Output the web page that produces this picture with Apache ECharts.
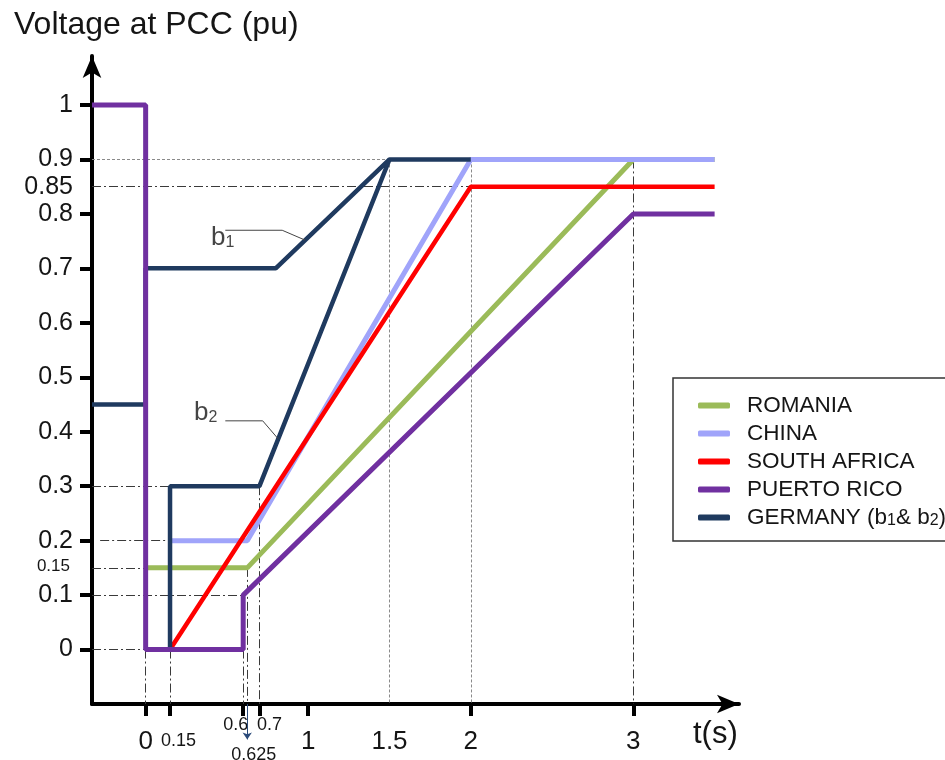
<!DOCTYPE html>
<html>
<head>
<meta charset="utf-8">
<script src="https://cdn.jsdelivr.net/npm/echarts@6/dist/echarts.min.js"></script>
<style>
html, body { margin: 0; padding: 0; background: #fff; }
#chart { width: 945px; height: 760px; }
</style>
</head>
<body>
<div id="chart"></div>
<script>
// t (s) and voltage (pu) for each grid code curve
var tRomania = [0, 0.625, 3, 3.5];
var vRomania = [0.15, 0.15, 0.9, 0.9];
var tChina = [0.15, 0.625, 2, 3.5];
var vChina = [0.2, 0.2, 0.9, 0.9];
var tSouthAfrica = [0.15, 2, 3.5];
var vSouthAfrica = [0, 0.85, 0.85];
var tPuertoRico = [-0.33, 0, 0, 0.6, 0.6, 3, 3.5];
var vPuertoRico = [1, 1, 0, 0, 0.1, 0.8, 0.8];
var tGermanyB1 = [-0.33, 0, 0, 0.8, 1.5, 2];
var vGermanyB1 = [0.45, 0.45, 0.7, 0.7, 0.9, 0.9];
var tGermanyB2 = [0.15, 0.15, 0.7, 1.5];
var vGermanyB2 = [0, 0.3, 0.3, 0.9];

var countries = ['ROMANIA', 'CHINA', 'SOUTH AFRICA', 'PUERTO RICO', 'GERMANY (b1& b2)'];

// axis ticks / labels
var xTicks = [0, 0.15, 0.6, 0.7, 1, 2, 3];
var xLabels = [0, 0.6, 0.7, 1, 1.5, 2, 3];
var xLabelsLow = [0.15, 0.625];   // the two lower, smaller labels
var yTicks = [0, 0.1, 0.2, 0.3, 0.4, 0.5, 0.6, 0.7, 0.8, 0.9, 1];
var yLabels = [0, 0.1, 0.15, 0.2, 0.3, 0.4, 0.5, 0.6, 0.7, 0.8, 0.85, 0.9, 1];

// helper lines [[t, v], [t, v]]
var dashDotGuides = [
    [[-0.33, 0.85], [2, 0.85]],
    [[-0.33, 0.3], [0.15, 0.3]],
    [[-0.28, 0.2], [0.15, 0.2]],
    [[-0.33, 0.15], [0, 0.15]],
    [[-0.33, 0.1], [0.6, 0.1]],
    [[-0.33, 0], [0, 0]],
    [[0, 0], [0, -0.1]],
    [[0.15, 0], [0.15, -0.1]],
    [[0.6, 0], [0.6, -0.1]],
    [[0.625, 0.15], [0.625, -0.1]],
    [[0.7, 0.3], [0.7, -0.1]],
    [[3, 0.9], [3, -0.1]]
];
var dottedGuides = [
    [[-0.33, 0.9], [3, 0.9]],
    [[1.5, 0.9], [1.5, -0.1]],
    [[2, 0.9], [2, -0.1]]
];

// b1 / b2 callouts
var b1Pos = [0.474, 0.756];
var b2Pos = [0.37, 0.435];
var b1Leader = [[0.49, 0.77], [0.84, 0.77], [0.98, 0.752]];
var b2Leader = [[0.49, 0.42], [0.72, 0.42], [0.815, 0.387]];
var tick625Arrow = [[0.625, -0.1], [0.625, -0.165]];

function zip(ts, vs) {
    var out = [];
    for (var i = 0; i < ts.length; i++) {
        out.push([ts[i], vs[i]]);
    }
    return out;
}

var FONT = 'Liberation Sans, Arial, sans-serif';
var TXT = '#151515';

var X_MIN = -0.33, X_MAX = 3.65, Y_MIN = -0.1, Y_MAX = 1.09;
var gridBox = { left: 92, right: 206, top: 56, bottom: 56, containLabel: false, outerBoundsMode: 'none' };

function curve(name, ts, vs, color, width) {
    return {
        name: name,
        type: 'line',
        data: zip(ts, vs),
        symbol: 'none',
        color: color,
        lineStyle: { color: color, width: width },
        z: 3,
        animation: false
    };
}

var xStyle = { 0: 'big', 0.15: 's15', 0.6: 'l6', 0.625: 's625', 0.7: 'r7', 1: 'big', 1.5: 'big', 2: 'big', 3: 'big' };
var xRich = {
    big: { fontFamily: FONT, fontSize: 26, lineHeight: 28, color: TXT, padding: [32, 0, 0, 0] },
    s15: { fontFamily: FONT, fontSize: 18, lineHeight: 20, color: TXT, padding: [38, 0, 0, 17] },
    l6: { fontFamily: FONT, fontSize: 18, lineHeight: 20, color: TXT, padding: [7, 15, 0, 0] },
    r7: { fontFamily: FONT, fontSize: 18, lineHeight: 20, color: TXT, padding: [7, 0, 0, 20] },
    s625: { fontFamily: FONT, fontSize: 18, lineHeight: 20, color: TXT, padding: [66, 0, 0, 13] }
};
function xFormatter(v) {
    return '{' + (xStyle[v] || 'big') + '|' + v + '}';
}

var chart = echarts.init(document.getElementById('chart'));

option = {
    animation: false,
    title: [
        {
            text: 'Voltage at PCC (pu)',
            left: 9,
            top: 4,
            textStyle: { fontFamily: FONT, fontSize: 32, fontWeight: 'normal', color: TXT }
        },
        {
            text: 't(s)',
            left: 688,
            top: 714,
            textStyle: { fontFamily: FONT, fontSize: 31, fontWeight: 'normal', color: TXT }
        }
    ],
    legend: {
        orient: 'vertical',
        left: 673,
        top: 378,
        padding: [16, 60, 12, 25],
        itemGap: 5,
        itemWidth: 32,
        itemHeight: 6,
        icon: 'roundRect',
        borderColor: '#333',
        borderWidth: 1.5,
        backgroundColor: '#fff',
        data: countries,
        formatter: function (name) {
            if (name === 'GERMANY (b1& b2)') {
                return 'GERMANY (b{sub|1}& b{sub|2})';
            }
            return name;
        },
        textStyle: {
            fontFamily: FONT,
            fontSize: 22.5,
            lineHeight: 22,
            color: TXT,
            padding: [0, 0, 0, 12],
            rich: {
                sub: { fontFamily: FONT, fontSize: 16, color: TXT, verticalAlign: 'bottom' }
            }
        }
    },
    grid: [gridBox, gridBox],
    xAxis: [
        {
            type: 'value',
            gridIndex: 0,
            min: X_MIN,
            max: X_MAX,
            splitLine: { show: false },
            axisLine: {
                onZero: false,
                lineStyle: { color: '#000', width: 4 },
                symbol: ['none', 'arrow'],
                symbolSize: [14, 22]
            },
            axisTick: {
                customValues: xTicks,
                length: 12,
                lineStyle: { color: '#000', width: 4 }
            },
            axisLabel: {
                customValues: xLabels,
                showMinLabel: true,
                showMaxLabel: true,
                margin: 8,
                formatter: xFormatter,
                rich: xRich
            }
        },
        {
            // second, label-only axis for 0.15 and 0.625
            type: 'value',
            gridIndex: 1,
            min: X_MIN,
            max: X_MAX,
            splitLine: { show: false },
            axisLine: { show: false, onZero: false },
            axisTick: { show: false },
            axisLabel: {
                customValues: xLabelsLow,
                showMinLabel: true,
                showMaxLabel: true,
                margin: 8,
                formatter: xFormatter,
                rich: xRich
            }
        }
    ],
    yAxis: [
        {
            type: 'value',
            gridIndex: 0,
            min: Y_MIN,
            max: Y_MAX,
            splitLine: { show: false },
            axisLine: {
                onZero: false,
                lineStyle: { color: '#000', width: 4 },
                symbol: ['none', 'arrow'],
                symbolSize: [14, 22]
            },
            axisTick: {
                customValues: yTicks,
                length: 12,
                lineStyle: { color: '#000', width: 4 }
            },
            axisLabel: {
                customValues: yLabels,
                showMinLabel: true,
                showMaxLabel: true,
                margin: 19,
                formatter: function (v) {
                    if (v === 0.15) return '{s|0.15}';
                    return '{n|' + v + '}';
                },
                rich: {
                    n: { fontFamily: FONT, fontSize: 25, color: TXT },
                    s: { fontFamily: FONT, fontSize: 17, color: TXT, padding: [0, 3, 4, 0] }
                }
            }
        },
        {
            type: 'value',
            gridIndex: 1,
            min: Y_MIN,
            max: Y_MAX,
            show: false
        }
    ],
    series: [
        {
            type: 'lines',
            coordinateSystem: 'cartesian2d',
            data: dashDotGuides.map(function (s) { return { coords: s }; }),
            lineStyle: { color: '#3a3a3a', width: 1, type: [9, 3, 2, 3], opacity: 1 },
            silent: true,
            clip: false,
            z: 1
        },
        {
            type: 'lines',
            coordinateSystem: 'cartesian2d',
            data: dottedGuides.map(function (s) { return { coords: s }; }),
            lineStyle: { color: '#8a8a8a', width: 1, type: [3, 2], opacity: 1 },
            silent: true,
            clip: false,
            z: 1
        },
        curve('ROMANIA', tRomania, vRomania, '#9BBB59', 5),
        curve('CHINA', tChina, vChina, '#A0A4FA', 5),
        curve('SOUTH AFRICA', tSouthAfrica, vSouthAfrica, '#FF0000', 4.5),
        curve('GERMANY (b1& b2)', tGermanyB1, vGermanyB1, '#1F3A5F', 4.5),
        curve('GERMANY (b1& b2)', tGermanyB2, vGermanyB2, '#1F3A5F', 4.5),
        curve('PUERTO RICO', tPuertoRico, vPuertoRico, '#7030A0', 5),
        {
            type: 'lines',
            coordinateSystem: 'cartesian2d',
            polyline: true,
            data: [{ coords: b1Leader }, { coords: b2Leader }],
            symbol: ['none', 'arrow'],
            symbolSize: 8,
            lineStyle: { color: '#444', width: 1, opacity: 1 },
            silent: true,
            z: 4
        },
        {
            type: 'lines',
            coordinateSystem: 'cartesian2d',
            data: [{ coords: tick625Arrow }],
            symbol: ['none', 'arrow'],
            symbolSize: 7,
            lineStyle: { color: '#2a4a7a', width: 1, opacity: 1 },
            silent: true,
            clip: false,
            z: 4
        },
        {
            type: 'scatter',
            data: [
                { value: b1Pos, label: { formatter: 'b{s|1}' } },
                { value: b2Pos, label: { formatter: 'b{s|2}' } }
            ],
            symbolSize: 1,
            itemStyle: { color: 'rgba(0,0,0,0)' },
            silent: true,
            label: {
                show: true,
                position: 'inside',
                fontFamily: FONT,
                fontSize: 26,
                color: TXT,
                rich: {
                    s: { fontFamily: FONT, fontSize: 16, color: TXT, verticalAlign: 'bottom', padding: [8, 0, 0, 0] }
                }
            },
            z: 5
        }
    ]
};

chart.setOption(option);
</script>
</body>
</html>
